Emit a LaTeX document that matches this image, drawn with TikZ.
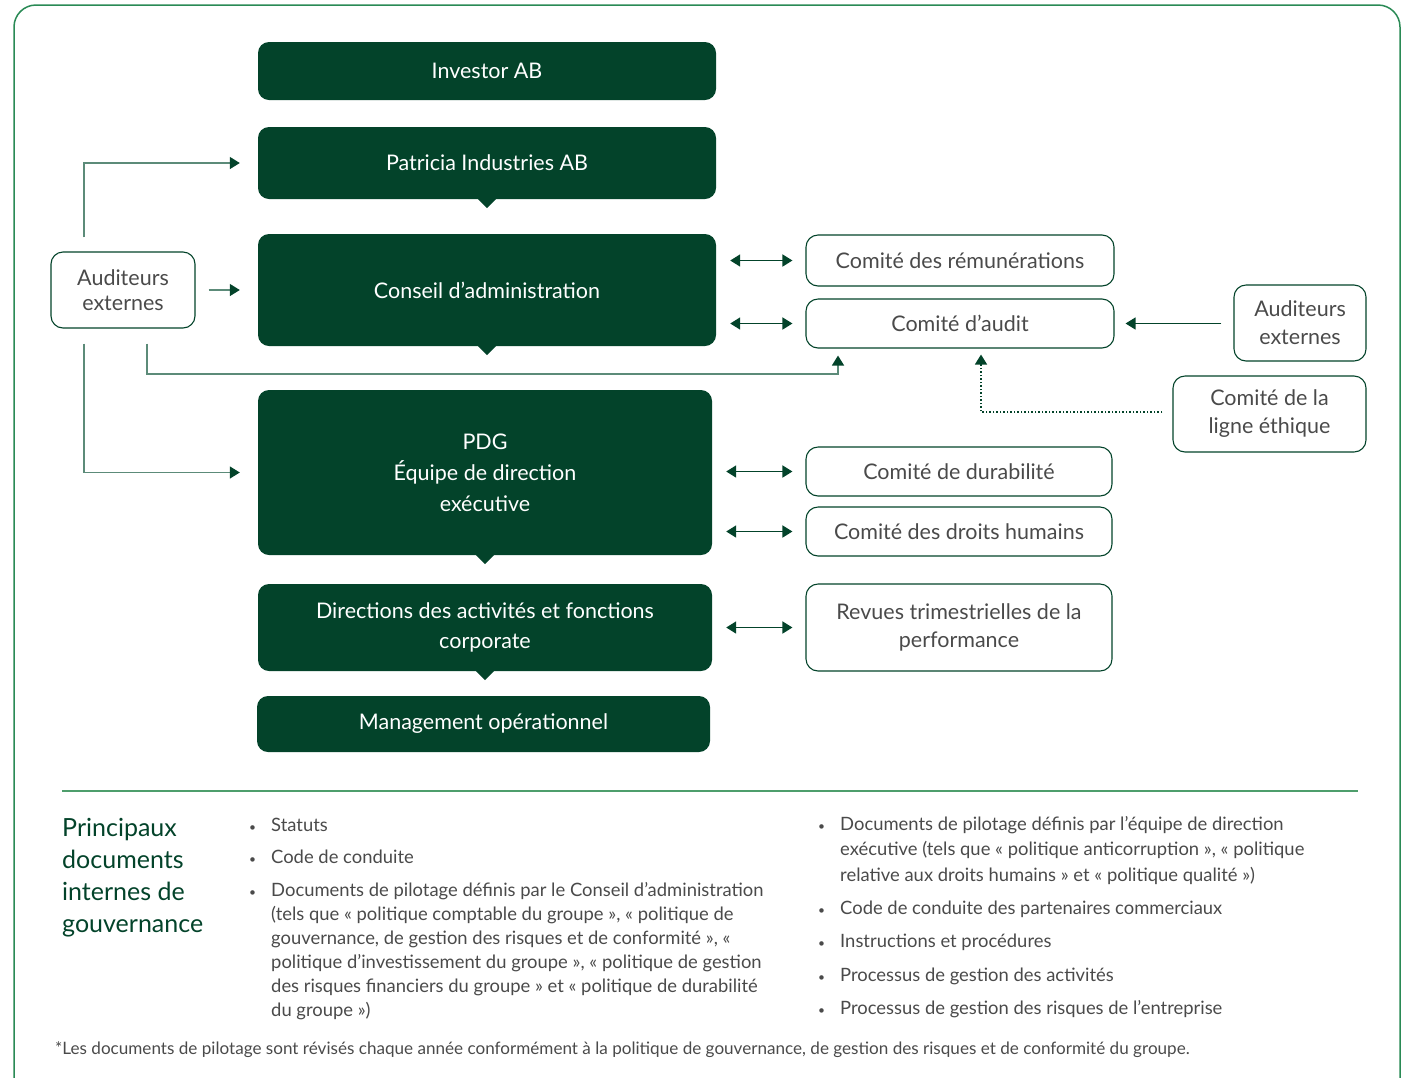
\documentclass[tikz,border=0pt]{standalone}
\usepackage{fontspec}
\setmainfont{Lato}
\usetikzlibrary{arrows.meta,positioning}
\definecolor{pine}{HTML}{03432A}
\definecolor{framegreen}{HTML}{2A8A55}
\definecolor{rulegreen}{HTML}{4E9E6C}
\definecolor{linkgreen}{HTML}{5C8B79}
\definecolor{txtgray}{HTML}{4A4A4A}
\def\bul{{\fontsize{12}{12}\selectfont\textbullet}}
\def\notch#1{\fill[pine] ([xshift=-9pt]#1.south) -- ([yshift=-9pt]#1.south) -- ([xshift=9pt]#1.south) -- cycle;}

\begin{document}
\begin{tikzpicture}[x=1pt, y=1pt, >={Triangle[width=12pt,length=10pt]},
  level/.style={fill=pine, rounded corners=11pt, text=white, font=\fontsize{21.5}{31}\selectfont, align=center, inner sep=0pt},
  board/.style={draw=pine, line width=1.1pt, rounded corners=12pt, text=txtgray, font=\fontsize{21.5}{28}\selectfont, align=center, inner sep=0pt},
  duo/.style={<->, color=pine, line width=1.6pt, shorten <=14pt, shorten >=13pt},
  link/.style={-{Triangle[width=12pt,length=10pt,color=pine]}, color=linkgreen, line width=1.4pt},
  feed/.style={->, color=pine, line width=1.4pt, shorten <=12pt, shorten >=11pt},
  dots/.style={->, color=pine, line width=1.5pt, dotted, shorten <=10pt, shorten >=6pt},
  doclist/.style={anchor=north west, inner sep=0pt, text=txtgray}]
\useasboundingbox (0pt,0pt) rectangle (1407pt,-1077pt);
\draw[framegreen, line width=1.5pt, rounded corners=22pt] (14.0pt,-5.0pt) rectangle (1400.0pt,-1100.0pt);
\draw (487.0pt, -71.0pt)node[level, minimum width=458pt, minimum height=58pt](inv){Investor AB};
\draw (487.0pt, -163.0pt)node[level, minimum width=458pt, minimum height=72pt](pat){Patricia Industries AB};
\draw (487.0pt, -290.0pt)node[level, minimum width=458pt, minimum height=112pt](cda){Conseil d’administration};
\draw (485.0pt, -472.5pt)node[level, minimum width=454pt, minimum height=165pt](pdg){PDG\\Équipe de direction\\exécutive};
\draw (485.0pt, -627.5pt)node[level, minimum width=454pt, minimum height=87pt, font=\fontsize{21.5}{30}\selectfont](dir){Directions des activités et fonctions\\corporate};
\draw (483.5pt, -724.0pt)node[level, minimum width=453pt, minimum height=56pt](mgmt){Management opérationnel};
\notch{pat}
\notch{cda}
\notch{pdg}
\notch{dir}
\draw (960.0pt, -260.5pt)node[board, minimum width=308pt, minimum height=51pt](rem){Comité des rémunérations};
\draw (960.0pt, -323.5pt)node[board, minimum width=308pt, minimum height=49pt](aud){Comité d’audit};
\draw (959.0pt, -471.5pt)node[board, minimum width=306pt, minimum height=49pt](dur){Comité de durabilité};
\draw (959.0pt, -531.5pt)node[board, minimum width=306pt, minimum height=49pt](dh){Comité des droits humains};
\draw (959.0pt, -627.5pt)node[board, minimum width=306pt, minimum height=87pt](rev){Revues trimestrielles de la\\performance};
\draw (123.0pt, -290.0pt)node[board, minimum width=144pt, minimum height=76pt, font=\fontsize{21.5}{25}\selectfont](audL){Auditeurs\\externes};
\draw (1300.0pt, -323.0pt)node[board, minimum width=132pt, minimum height=76pt](audR){Auditeurs\\externes};
\draw (1269.5pt, -414.0pt)node[board, minimum width=193pt, minimum height=76pt](eth){Comité de la\\ligne éthique};
\draw (838.0pt, -374.0pt) coordinate(jA);
\draw (981.0pt, -412.0pt) coordinate(jE);
\path[duo] (rem.west -| cda.east) edge (rem.west);
\path[duo] (aud.west -| cda.east) edge (aud.west);
\path[duo] (dur.west -| pdg.east) edge (dur.west);
\path[duo] (dh.west -| pdg.east) edge (dh.west);
\path[duo] (rev.west -| dir.east) edge (rev.west);
\path[feed] (aud.east -| audR.west) edge (aud.east);
\path[link, shorten <=13pt, shorten >=18pt] (audL.east) edge (audL.east -| cda.west);
\draw[link, shorten <=14pt, shorten >=18pt] ([xshift=-39pt]audL.north) |- (pat.west);
\draw[link, shorten <=15pt, shorten >=18pt] ([xshift=-39pt]audL.south) |- (pdg.west);
\draw[link, shorten <=15pt, shorten >=7pt] ([xshift=24pt]audL.south) |- (jA) -- (jA |- aud.south);
\draw[dots] (jE -| eth.west) -- (jE) -- (jE |- aud.south);
\draw[rulegreen, line width=1.6pt] (62.0pt,-791.0pt) -- (1358.0pt,-791.0pt);
\draw (62.0pt, -818.0pt)node[anchor=north west, inner sep=0pt, align=left, text=pine, font=\fontsize{25}{32}\selectfont](head){Principaux\\documents\\internes de\\gouvernance};
\draw (249.0pt, -814.0pt)node[doclist, font=\fontsize{18.4}{24}\selectfont](listA){%
\begin{tabular}{@{}p{22pt}@{}l@{}}
\bul & Statuts\\[8pt]
\bul & Code de conduite\\[9pt]
\bul & Documents de pilotage définis par le Conseil d’administration\\
 & (tels que «~politique comptable du groupe~», «~politique de\\
 & gouvernance, de gestion des risques et de conformité~», «\\
 & politique d’investissement du groupe~», «~politique de gestion\\
 & des risques financiers du groupe~» et «~politique de durabilité\\
 & du groupe~»)
\end{tabular}};
\draw (818.0pt, -812.0pt)node[doclist, font=\fontsize{18.4}{25.5}\selectfont](listB){%
\begin{tabular}{@{}p{22pt}@{}l@{}}
\bul & Documents de pilotage définis par l’équipe de direction\\
 & exécutive (tels que «~politique anticorruption~», «~politique\\
 & relative aux droits humains~» et «~politique qualité~»)\\[7.5pt]
\bul & Code de conduite des partenaires commerciaux\\[8pt]
\bul & Instructions et procédures\\[8pt]
\bul & Processus de gestion des activités\\[8pt]
\bul & Processus de gestion des risques de l’entreprise
\end{tabular}};
\draw (55.0pt, -1050.0pt)node[anchor=west, inner sep=0pt, text=txtgray, font=\fontsize{17.1}{19}\selectfont](note){*Les documents de pilotage sont révisés chaque année conformément à la politique de gouvernance, de gestion des risques et de conformité du groupe.};
\end{tikzpicture}
\end{document}
